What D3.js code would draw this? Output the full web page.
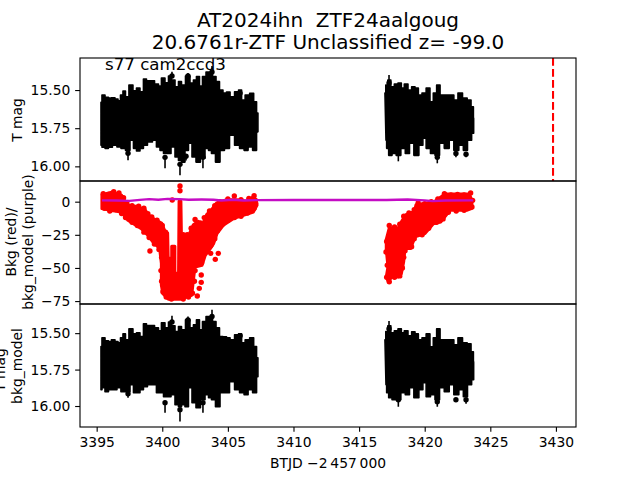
<!DOCTYPE html>
<html><head><meta charset="utf-8">
<script src="https://cdn.jsdelivr.net/npm/d3@7"></script>
<style>html,body{margin:0;padding:0;background:#fff}svg{display:block}text{font-family:"DejaVu Sans",sans-serif;fill:#000;white-space:pre}</style>
</head><body><div id="c"></div>
<script>
const titleLines=["AT2024ihn  ZTF24aalgoug","20.6761r-ZTF Unclassified z= -99.0"];
const noteText="s77 cam2ccd3";
const xLabel="BTJD \u22122\u2009457\u2009000";
const xTicks=[3395,3400,3405,3410,3415,3420,3425,3430];
const magTicks=[15.5,15.75,16];
const bkgTicks=[0,-25,-50,-75];
const eventTime=3429.78;

// upper/lower reach of the dense magnitude error bars, first observing stretch
const a1TopT=[3395.33,3395.48,3395.79,3396.01,3396.24,3396.55,3396.70,3396.93,3397.08,3397.31,3397.61,3397.92,3398.15,3398.45,3398.68,3398.91,3399.22,3399.60,3399.82,3400.05,3400.36,3400.59,3400.82,3401.12,3401.35,3401.58,3401.96,3402.26,3402.49,3402.72,3402.95,3403.18,3403.49,3403.72,3403.94,3404.25,3404.47,3404.78,3405.01,3405.32,3405.70,3405.93,3406.16,3406.47,3406.85,3407.08,3407.29];
const a1TopMag=[15.58,15.533,15.548,15.553,15.551,15.559,15.570,15.533,15.507,15.544,15.467,15.505,15.487,15.511,15.428,15.439,15.439,15.461,15.474,15.421,15.452,15.408,15.434,15.478,15.445,15.467,15.408,15.454,15.434,15.412,15.474,15.412,15.382,15.382,15.412,15.445,15.5,15.52,15.513,15.544,15.511,15.50,15.566,15.533,15.522,15.577,15.651];
const a3TopMag=[15.592,15.532,15.553,15.558,15.546,15.558,15.566,15.532,15.505,15.546,15.471,15.505,15.498,15.523,15.436,15.448,15.448,15.464,15.484,15.429,15.464,15.423,15.45,15.489,15.455,15.477,15.409,15.464,15.443,15.409,15.477,15.421,15.386,15.386,15.421,15.464,15.523,15.525,15.532,15.546,15.512,15.505,15.566,15.546,15.532,15.592,15.669];
const a1BotT=[3395.33,3395.48,3395.79,3396.01,3396.39,3396.70,3397.00,3397.39,3397.69,3397.92,3398.15,3398.45,3398.68,3399.06,3399.44,3399.67,3399.98,3400.21,3400.51,3400.82,3401.12,3401.35,3401.58,3401.88,3402.11,3402.42,3402.72,3403.10,3403.41,3403.64,3403.86,3404.25,3404.55,3404.93,3405.32,3405.70,3406.08,3406.39,3406.69,3407.08,3407.29];
const a1BotMag=[15.862,15.875,15.882,15.875,15.862,15.873,15.882,15.895,15.829,15.882,15.899,15.882,15.862,15.84,15.829,15.873,15.895,15.915,15.915,15.873,15.939,15.961,15.972,15.895,15.849,15.939,15.972,15.947,15.882,15.895,15.915,15.972,15.895,15.882,15.796,15.862,15.882,15.895,15.873,15.895,15.774];
const a3BotMag=[15.888,15.875,15.902,15.888,15.888,15.875,15.902,15.902,15.854,15.909,15.909,15.888,15.868,15.854,15.854,15.909,15.909,15.936,15.936,15.923,15.991,16.005,15.991,16.005,15.875,15.977,16.012,15.957,15.923,15.943,15.957,16.005,15.909,15.909,15.834,15.888,15.909,15.923,15.888,15.909,15.799];

// second observing stretch
const b1TopT=[3416.97,3417.10,3417.28,3417.56,3417.81,3418.12,3418.32,3418.57,3418.88,3419.13,3419.39,3419.64,3419.95,3420.27,3420.53,3420.78,3421.04,3421.30,3421.68,3422.06,3422.38,3422.69,3423.07,3423.40,3423.66,3423.76];
const b1TopMag=[15.52,15.467,15.434,15.478,15.461,15.454,15.487,15.461,15.5,15.478,15.487,15.533,15.52,15.487,15.577,15.52,15.467,15.533,15.533,15.533,15.566,15.52,15.553,15.566,15.61,15.684];
const b3TopMag=[15.546,15.489,15.45,15.498,15.484,15.471,15.498,15.484,15.518,15.491,15.505,15.546,15.532,15.505,15.594,15.532,15.471,15.546,15.546,15.546,15.58,15.532,15.566,15.573,15.628,15.697];
const b1BotT=[3417.05,3417.15,3417.36,3417.66,3417.99,3418.37,3418.67,3419.01,3419.34,3419.77,3419.95,3420.27,3420.61,3420.96,3421.30,3421.68,3422.06,3422.38,3422.82,3423.07,3423.45,3423.70];
const b1BotMag=[15.829,15.882,15.928,15.915,15.928,15.882,15.915,15.849,15.928,15.862,15.816,15.882,15.915,15.928,15.849,15.882,15.829,15.895,15.862,15.895,15.829,15.783];
const b3BotMag=[15.854,15.909,15.943,15.957,15.957,15.909,15.923,15.875,15.943,15.888,15.84,15.936,15.923,15.957,15.875,15.902,15.854,15.923,15.888,15.936,15.854,15.82];

// isolated points that stand out of the band, with the end of their error bar
const spikeT=[3397.39,3400.21,3400.74,3401.35,3401.81,3401.96,3403.10,3403.79,3405.93,3417.28,3417.99,3420.96,3422.38,3423.15];
const spike1Mag=[15.914,15.941,15.408,15.987,15.934,15.408,15.941,15.382,15.52,15.454,15.908,15.941,15.915,15.921];
const spike1Tip=[15.96,16.013,15.38,16.059,15.961,15.388,16.013,15.342,15.5,15.401,15.967,15.98,15.941,15.941];
const spike3Mag=[15.916,15.977,15.423,16.025,15.96,15.409,15.977,15.386,15.518,15.47,15.957,15.97,15.957,15.957];
const spike3Tip=[15.943,16.046,15.381,16.107,15.99,15.386,16.046,15.34,15.505,15.416,16.005,16.005,15.97,15.984];

// background: outline of the dense red points, then single red points
const bkgAT=[3395.40,3396.14,3396.90,3397.16,3397.54,3398.05,3398.68,3398.93,3399.44,3399.95,3400.21,3400.41,3400.45,3400.72,3400.72,3400.96,3400.96,3401.24,3401.28,3401.42,3401.46,3401.98,3402.37,3402.75,3403.00,3403.38,3403.76,3404.14,3404.91,3405.67,3406.43,3406.99,3407.22,3407.22,3406.94,3406.18,3405.41,3404.65,3404.17,3403.91,3403.66,3403.28,3403.03,3402.49,3402.24,3401.35,3400.46,3400.05,3399.93,3399.93,3399.80,3399.29,3398.91,3398.40,3397.38,3396.88,3396.01,3395.40];
const bkgAV=[5.31,7.07,4.81,0.28,-3.49,-3.49,-6.01,-9.78,-13.56,-16.07,-22.36,-23.62,-42.74,-42.74,-33.68,-33.68,-54.06,-54.06,0.28,0.28,-26.14,-26.14,-17.33,-14.81,-18.59,-9.78,-6.01,-0.98,1.54,1.54,0.28,4.05,-1.23,-2.74,-7.77,-10.29,-12.80,-17.83,-24.12,-31.67,-35.44,-40.48,-48.02,-49.28,-70.66,-73.68,-73.68,-69.41,-63.12,-46.51,-35.44,-30.41,-25.38,-20.35,-14.06,-7.77,-6.51,-5.26];
const bkgBT=[3417.07,3417.30,3417.99,3418.24,3418.57,3419.21,3419.34,3420.15,3420.78,3421.55,3423.40,3423.60,3423.60,3423.2,3421.93,3421.22,3420.66,3420.02,3419.26,3418.93,3418.50,3418.40,3418.22,3417.99,3417.48,3417.23,3417.07,3417.20,3417.07];
const bkgBV=[-28.4,-19.85,-19.85,-14.8,-9.78,-7.27,-2.24,-0.98,0.28,5.81,5.81,0.78,-5.0,-6.5,-6.5,-15.3,-16.6,-24.1,-26.6,-35.4,-35.4,-45.3,-54.3,-56.8,-56.8,-60.6,-56.8,-49.0,-36.4];
const bkgDotT=[3399.06,3403.69,3404.27,3404.04,3402.97,3402.97,3402.82,3402.67,3405.49,3400.76,3401.35,3401.35,
 3395.5,3395.9,3396.3,3396.7,3397.05,3397.3,3397.7,3398.2,3398.6,3398.9,3399.2,3399.6,3400.0,3400.25,
 3395.6,3396.0,3396.5,3396.9,3397.2,3397.7,3398.1,3398.6,3399.0,3399.4,3399.75,3399.95,3399.9,3399.95,3400.05,3400.3,3400.7,3401,3401.6,3402,3402.3,
 3402.45,3402.5,3403,3403.3,3403.7,3404,3404.2,3404.6,3405,3405.5,3406,3406.5,3407,3407.1,3407,3406.6,3406,3405,3404.4,3404,3403.6,3403.2,3402.9,3402.5,3402.2,3401.9,3401.6,
 3417.1,3417.3,3417.7,3418.1,3418.4,3418.8,3419.2,3419.5,3420,3420.5,3421,3421.5,3422,3422.5,3423,3423.5,3423.65,3423.6,3423,3422.4,3421.8,3421.4,3420.9,3420.3,3419.8,3419.2,3419,3418.5,3418.4,3418.3,3418.1,3417.7,3417.3,3417.1,3417.15,3417.05];
const bkgDotV=[-37.2,-38.97,-38.97,-43.5,-55.3,-60.85,-65.4,-71.2,4.3,1.29,11.85,8.3,
 6,5.5,7.5,6.5,3,-1,-3,-3.5,-5,-9,-11.5,-14,-18,-23,
 -5,-7,-6,-9,-12,-15.5,-18,-23,-27,-32,-36,-42,-52,-60,-68,-72,-73.5,-72,-73.5,-72,-69,
 -60,-52,-46,-38,-33,-28,-22,-17,-14,-12,-11,-8.5,-5,1,4.5,2.5,1.5,2,0,-3,-7,-12,-16,-13.5,-20,-25,-25,
 -30,-18,-19,-17,-11,-8.5,-6,-1,-1.5,0,2,6,5,5.5,5,6.5,1,-4,-6.5,-7,-8,-13,-15.5,-20,-25,-28,-34,-37,-42,-50,-56,-57,-60.5,-57,-48,-38];

// background model (purple)
const modelT=[3395.4,3396.5,3397.5,3398.3,3399,3399.7,3400.4,3401.3,3402,3403,3403.9,3404.5,3405.4,3406.2,3407.2,3410,3417.1,3418.7,3420,3420.6,3421.6,3423.7];
const modelV=[1.0,0.9,0.6,1.4,1.9,1.5,2.1,1.9,1.5,1.6,1.5,0.9,1.5,0.9,1.2,1.3,1.3,1.6,1.0,0.4,0.9,1.0];

const W=640,H=480,L=80,R=576;
const panelTops=[58,181,304],panelH=123;
const x=d3.scaleLinear().domain([3393.73,3431.53]).range([L,R]);
const y1=d3.scaleLinear().domain([15.29,16.096]).range([58,181]);
const y2=d3.scaleLinear().domain([15.6,-77.2]).range([181,304]);
const y3=d3.scaleLinear().domain([15.30,16.144]).range([304,427]);

const svg=d3.select("#c").append("svg").attr("width",W).attr("height",H);
const pts=(a,b)=>a.map((t,i)=>[t,b[i]]);

function band(yS,topT,topM,botT,botM){
  const line=d3.line().x(d=>x(d[0])).y(d=>yS(d[1])).curve(d3.curveStep);
  const outline=pts(topT,topM).concat(pts(botT,botM).reverse());
  svg.append("path").attr("d",line(outline)+"Z").attr("fill","#000").attr("stroke","#000").attr("stroke-width",1.6).attr("stroke-linejoin","round");
}
function spikes(yS,mag,tip){
  const g=svg.append("g");
  g.selectAll("line").data(spikeT).join("line")
   .attr("x1",d=>x(d)).attr("x2",d=>x(d))
   .attr("y1",(d,i)=>yS(mag[i])).attr("y2",(d,i)=>yS(tip[i]))
   .attr("stroke","#000").attr("stroke-width",1.6);
  g.selectAll("circle").data(spikeT).join("circle")
   .attr("cx",d=>x(d)).attr("cy",(d,i)=>yS(mag[i])).attr("r",2.7).attr("fill","#000");
}
band(y1,a1TopT,a1TopMag,a1BotT,a1BotMag);
band(y1,b1TopT,b1TopMag,b1BotT,b1BotMag);
spikes(y1,spike1Mag,spike1Tip);
band(y3,a1TopT,a3TopMag,a1BotT,a3BotMag);
band(y3,b1TopT,b3TopMag,b1BotT,b3BotMag);
spikes(y3,spike3Mag,spike3Tip);

const line2=d3.line().x(d=>x(d[0])).y(d=>y2(d[1]));
[[bkgAT,bkgAV],[bkgBT,bkgBV]].forEach(([a,b])=>{
  svg.append("path").attr("d",line2(pts(a,b))+"Z").attr("fill","#f00").attr("stroke","#f00").attr("stroke-width",3).attr("stroke-linejoin","round");
});
svg.append("g").selectAll("circle").data(bkgDotT).join("circle")
  .attr("cx",d=>x(d)).attr("cy",(d,i)=>y2(bkgDotV[i])).attr("r",2.7).attr("fill","#f00");
svg.append("path").attr("d",line2(pts(modelT,modelV))).attr("fill","none").attr("stroke","#c40cc4").attr("stroke-width",2.4);

// event marker
svg.append("line").attr("x1",x(eventTime)).attr("x2",x(eventTime)).attr("y1",58).attr("y2",181)
  .attr("stroke","#f00").attr("stroke-width",2.08).attr("stroke-dasharray","7.7 3.3");

// axes
function yAxis(scale,vals,fmt){
  const g=svg.append("g").attr("transform",`translate(${L},0)`)
   .call(d3.axisLeft(scale).tickValues(vals).tickFormat(fmt).tickSize(4.86).tickPadding(4.8).tickSizeOuter(0));
  g.select(".domain").remove();
  g.selectAll("line").attr("stroke","#000").attr("stroke-width",1.11);
  g.selectAll("text").attr("font-size",13.89).attr("font-family",'"DejaVu Sans"');
}
const f2=d3.format(".2f");
yAxis(y1,magTicks,f2);
yAxis(y2,bkgTicks,d3.format("d"));
yAxis(y3,magTicks,f2);
const gx=svg.append("g").attr("transform","translate(0,427)")
  .call(d3.axisBottom(x).tickValues(xTicks).tickFormat(d3.format("d")).tickSize(4.86).tickPadding(4.8).tickSizeOuter(0));
gx.select(".domain").remove();
gx.selectAll("line").attr("stroke","#000").attr("stroke-width",1.11);
gx.selectAll("text").attr("font-size",13.89).attr("font-family",'"DejaVu Sans"');

panelTops.forEach(t=>svg.append("rect").attr("x",L).attr("y",t).attr("width",R-L).attr("height",panelH)
  .attr("fill","none").attr("stroke","#000").attr("stroke-width",1.11));

// text
const cx=(L+R)/2;
svg.append("text").attr("x",cx).attr("y",27).attr("text-anchor","middle").attr("font-size",20).text(titleLines[0]);
svg.append("text").attr("x",cx).attr("y",49).attr("text-anchor","middle").attr("font-size",20).text(titleLines[1]);
svg.append("text").attr("x",105).attr("y",70).attr("font-size",16.67).text(noteText);
svg.append("text").attr("x",cx).attr("y",468).attr("text-anchor","middle").attr("font-size",13.89).text(xLabel);
function rotLabel(tx,ty,s){
  svg.append("text").attr("transform",`translate(${tx},${ty}) rotate(-90)`).attr("text-anchor","middle").attr("font-size",13.89).text(s);
}
rotLabel(22,120,"T mag");
rotLabel(16,242,"Bkg (red)/");
rotLabel(33,242,"bkg_model (purple)");
rotLabel(5,370,"T mag");
rotLabel(22,366,"bkg_model");
</script></body></html>
